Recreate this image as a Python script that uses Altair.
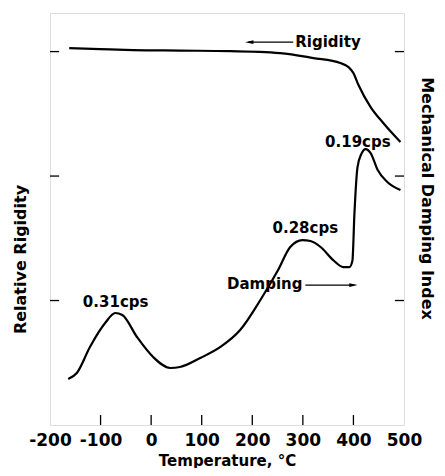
import altair as alt
import pandas as pd

# ---- data ----
rig_temp = [-162, -101, -36, 57, 156, 255, 321, 374, 390, 400, 410, 434, 459, 493]
rig_val = [3.028, 3.020, 3.012, 3.008, 3.004, 2.988, 2.948, 2.908, 2.876, 2.827, 2.731, 2.554, 2.426, 2.273]

damp_temp = [-164, -147, -121, -91, -71, -57, -28, 4, 38, 57, 97, 137, 176, 216, 251, 275, 299,
             315, 335, 360, 380, 392, 398, 402, 408, 416, 424, 434, 448, 467, 493]
damp_val = [0.369, 0.418, 0.627, 0.819, 0.900, 0.884, 0.707, 0.546, 0.458, 0.466, 0.538, 0.627,
            0.763, 1.004, 1.245, 1.430, 1.486, 1.478, 1.430, 1.325, 1.269, 1.269, 1.320, 1.700,
            2.070, 2.180, 2.217, 2.185, 2.048, 1.952, 1.888]

x_ticks = [-200, -100, 0, 100, 200, 300, 400, 500]
x_inner_ticks = [-100, 0, 100, 200, 300, 400]
y_ticks = [1, 2, 3]

labels = ["Rigidity", "0.19cps", "0.28cps", "0.31cps", "Damping"]
label_temp = [285, 344, 240, -135, 150]
label_val = [3.076, 2.27, 1.585, 0.99, 1.13]

arrow_names = ["rig", "rig", "damp", "damp"]
arrow_temp = [192, 281, 305, 402]
arrow_val = [3.076, 3.076, 1.124, 1.124]
head_temp = [194, 400]
head_val = [3.076, 1.124]
head_shape = ["M -1 0 L 1 -0.45 L 1 0.45 Z", "M 1 0 L -1 -0.45 L -1 0.45 Z"]

XMIN, XMAX = -200, 500
YMIN, YMAX = 0, 3.31
FONT = "DejaVu Sans"

xs = alt.Scale(domain=[XMIN, XMAX], nice=False, zero=False)
ys = alt.Scale(domain=[YMIN, YMAX], nice=False, zero=False)

rig = pd.DataFrame({"t": rig_temp, "v": rig_val})
damp = pd.DataFrame({"t": damp_temp, "v": damp_val})

x_axis = alt.Axis(orient="bottom", values=x_ticks, ticks=False, domain=False, grid=False,
                  labelExpr="toString(datum.value)",
                  labelFont=FONT, labelFontWeight="bold", labelFontSize=17, labelColor="black",
                  labelPadding=7, labelFlush=False, labelOverlap=False,
                  title="Temperature, °C", titleFont=FONT, titleFontWeight="bold",
                  titleFontSize=15, titleColor="black", titleX=177, titleY=35,
                  titleBaseline="middle", titleAlign="center")

left_axis = alt.Axis(orient="left", labels=False, ticks=False, domain=False, grid=False,
                     title="Relative Rigidity", titleFont=FONT, titleFontWeight="bold",
                     titleFontSize=16, titleColor="black", titleAngle=-90, titleX=-30, titleY=246,
                     titleBaseline="middle", titleAlign="center")
right_axis = alt.Axis(orient="right", labels=False, ticks=False, domain=False, grid=False,
                      title="Mechanical Damping Index", titleFont=FONT, titleFontWeight="bold",
                      titleFontSize=16, titleColor="black", titleAngle=90, titleX=22, titleY=185,
                      titleBaseline="middle", titleAlign="center")

rig_line = alt.Chart(rig).mark_line(color="black", strokeWidth=2.2, interpolate="monotone").encode(
    x=alt.X("t:Q", scale=xs, axis=x_axis),
    y=alt.Y("v:Q", scale=ys, axis=left_axis),
)
damp_line = alt.Chart(damp).mark_line(color="black", strokeWidth=2.2, interpolate="monotone").encode(
    x=alt.X("t:Q", scale=xs, axis=None),
    y=alt.Y("v:Q", scale=ys, axis=right_axis),
)

# inward tick marks
lt = pd.DataFrame({"y": y_ticks, "x1": [XMIN] * 3, "x2": [XMIN + 18] * 3})
rt = pd.DataFrame({"y": y_ticks, "x1": [XMAX - 18] * 3, "x2": [XMAX] * 3})
bt = pd.DataFrame({"x": x_inner_ticks, "y1": [YMIN] * 6, "y2": [YMIN + 0.08] * 6})
tick_l = alt.Chart(lt).mark_rule(color="black", strokeWidth=1.3).encode(
    x=alt.X("x1:Q", scale=xs, axis=None), x2="x2:Q", y=alt.Y("y:Q", scale=ys, axis=None))
tick_r = alt.Chart(rt).mark_rule(color="black", strokeWidth=1.3).encode(
    x=alt.X("x1:Q", scale=xs, axis=None), x2="x2:Q", y=alt.Y("y:Q", scale=ys, axis=None))
tick_b = alt.Chart(bt).mark_rule(color="black", strokeWidth=1.3).encode(
    x=alt.X("x:Q", scale=xs, axis=None), y=alt.Y("y1:Q", scale=ys, axis=None), y2="y2:Q")

lab = pd.DataFrame({"label": labels, "t": label_temp, "v": label_val})
texts = alt.Chart(lab).mark_text(font=FONT, fontWeight="bold", fontSize=15, align="left",
                                 baseline="middle", color="black").encode(
    x=alt.X("t:Q", scale=xs, axis=None), y=alt.Y("v:Q", scale=ys, axis=None), text="label:N")

arr = pd.DataFrame({"name": arrow_names, "t": arrow_temp, "v": arrow_val})
arrows = alt.Chart(arr).mark_line(color="black", strokeWidth=1.4).encode(
    x=alt.X("t:Q", scale=xs, axis=None), y=alt.Y("v:Q", scale=ys, axis=None), detail="name:N")

heads = []
for ht, hv, hs in zip(head_temp, head_val, head_shape):
    hd = pd.DataFrame({"t": [ht], "v": [hv]})
    heads.append(alt.Chart(hd).mark_point(shape=hs, filled=True, color="black", size=70, opacity=1).encode(
        x=alt.X("t:Q", scale=xs, axis=None), y=alt.Y("v:Q", scale=ys, axis=None)))

chart = alt.layer(rig_line, damp_line, tick_l, tick_r, tick_b, texts, arrows, *heads).resolve_axis(
    x="independent", y="independent"
).properties(
    width=354, height=412,
    autosize=alt.AutoSizeParams(type="none"),
    padding={"left": 42, "top": 5, "right": 33, "bottom": 43},
).configure_view(stroke="black", strokeWidth=1.5).configure(background="white")

chart.save("out.html", embed_options={"renderer": "svg", "actions": False})
